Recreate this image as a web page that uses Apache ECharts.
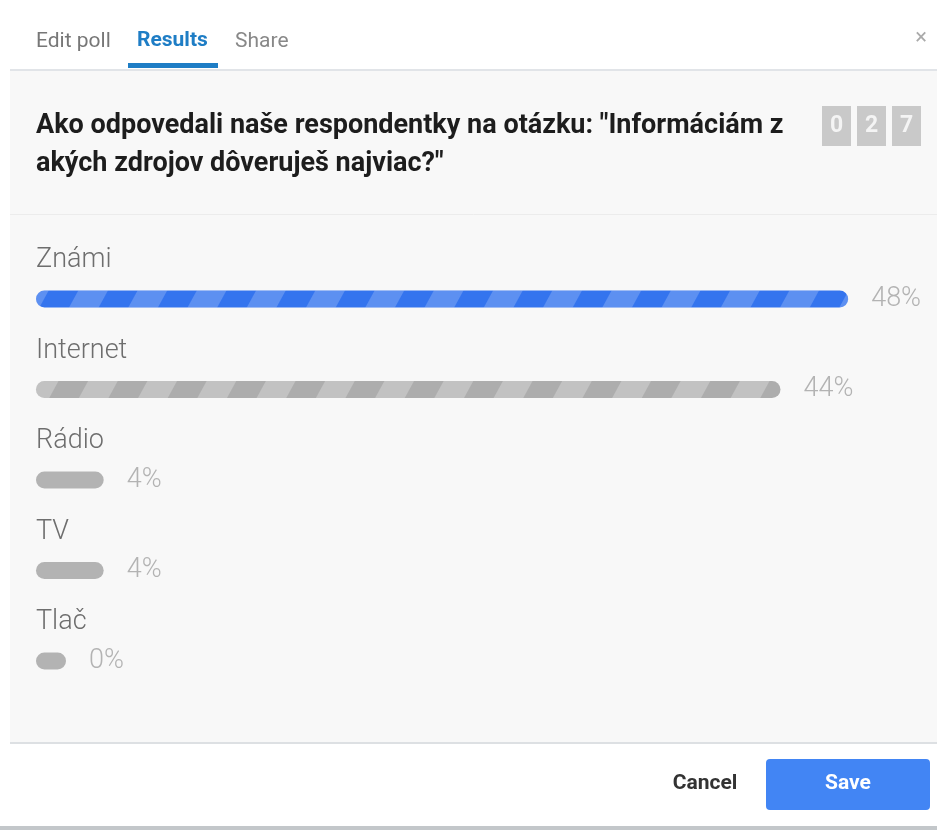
<!DOCTYPE html>
<html>
<head>
<meta charset="utf-8">
<script src="https://cdn.jsdelivr.net/npm/echarts@6/dist/echarts.min.js"></script>
<style>
  html, body { margin: 0; padding: 0; background: #fff; }
  #main { width: 937px; height: 830px; }
</style>
</head>
<body>
<div id="main"></div>
<script>
// poll answers and their shares (%)
let answers = ['Známi', 'Internet', 'Rádio', 'TV', 'Tlač'];
let shares = [48, 44, 4, 4, 0];
let voteDigits = ['0', '2', '7'];
let tabs = ['Edit poll', 'Results', 'Share'];
let question = ['Ako odpovedali naše respondentky na otázku: "Informáciám z', 'akých zdrojov dôveruješ najviac?"'];

const FONT = 'Roboto, "Noto Sans", sans-serif';

function stripes(color) {
    return {
        symbol: 'rect',
        symbolSize: 1,
        color: color,
        dashArrayX: [26, 26],
        dashArrayY: [1, 0],
        rotation: 0.5
    };
}

let barData = shares.map((v, i) => {
    if (i === 0) {
        return { value: v, itemStyle: { color: '#3474ee', decal: stripes('rgba(255,255,255,0.2)') } };
    }
    if (i === 1) {
        return { value: v, itemStyle: { color: '#adadad', decal: stripes('rgba(255,255,255,0.25)') } };
    }
    return { value: v, itemStyle: { color: '#b3b3b3' } };
});

let chrome = [
    // grey panel
    { type: 'rect', shape: { x: 10, y: 70, width: 927, height: 673 }, style: { fill: '#f8f8f8' }, z: -10 },
    { type: 'line', shape: { x1: 10, y1: 70, x2: 937, y2: 70 }, style: { stroke: '#e1e4e8', lineWidth: 2 } },
    { type: 'line', shape: { x1: 10, y1: 214.5, x2: 937, y2: 214.5 }, style: { stroke: '#ececec', lineWidth: 1 } },
    { type: 'line', shape: { x1: 10, y1: 743, x2: 937, y2: 743 }, style: { stroke: '#dde0e3', lineWidth: 2 } },
    { type: 'rect', shape: { x: 0, y: 826, width: 937, height: 4 }, style: { fill: '#c3c7ca' } },
    // tabs
    { type: 'text', x: 36, y: 42, style: { text: tabs[0], font: '21px ' + FONT, fill: '#777', verticalAlign: 'middle' } },
    { type: 'text', x: 137, y: 41, style: { text: tabs[1], font: 'bold 21px ' + FONT, fill: '#1e7dc5', verticalAlign: 'middle' } },
    { type: 'text', x: 235, y: 42, style: { text: tabs[2], font: '21px ' + FONT, fill: '#888', verticalAlign: 'middle' } },
    { type: 'rect', shape: { x: 128, y: 63, width: 90, height: 5 }, style: { fill: '#1e7dc5' } },
    { type: 'text', x: 921, y: 38, style: { text: '×', font: '22px ' + FONT, fill: '#aaa', align: 'center', verticalAlign: 'middle' } },
    // question
    { type: 'text', x: 36, y: 126, style: { text: question[0], font: 'bold 27px ' + FONT, fill: '#1d1d1d', verticalAlign: 'middle' } },
    { type: 'text', x: 36, y: 164, style: { text: question[1], font: 'bold 27px ' + FONT, fill: '#1d1d1d', verticalAlign: 'middle' } },
    // footer
    { type: 'text', x: 705, y: 784, style: { text: 'Cancel', font: 'bold 21px ' + FONT, fill: '#333', align: 'center', verticalAlign: 'middle' } },
    { type: 'rect', shape: { x: 766, y: 759, width: 164, height: 51, r: 4 }, style: { fill: '#4285f4' } },
    { type: 'text', x: 848, y: 784, style: { text: 'Save', font: 'bold 21px ' + FONT, fill: '#fff', align: 'center', verticalAlign: 'middle' } }
];

voteDigits.forEach((d, i) => {
    let x = 822 + i * 35;
    chrome.push({ type: 'rect', shape: { x: x, y: 106, width: 29, height: 40 }, style: { fill: '#c9c9c9' } });
    chrome.push({ type: 'text', x: x + 14.5, y: 126, style: { text: d, font: 'bold 23px ' + FONT, fill: '#f4f4f4', align: 'center', verticalAlign: 'middle' } });
});

let myChart = echarts.init(document.getElementById('main'));
let option = {
    animation: false,
    backgroundColor: '#fff',
    graphic: chrome,
    grid: {
        left: 36,
        right: 55,
        top: 253.75,
        bottom: 123.75,
        containLabel: false
    },
    xAxis: {
        type: 'value',
        min: 0,
        max: 50,
        show: false
    },
    yAxis: {
        type: 'category',
        inverse: true,
        data: answers,
        axisLine: { show: false },
        axisTick: { show: false },
        splitLine: { show: false },
        axisLabel: {
            inside: true,
            margin: 0,
            align: 'left',
            verticalAlign: 'bottom',
            padding: [0, 0, 25, 0],
            fontFamily: FONT,
            fontSize: 27,
            fontWeight: 300,
            color: '#6e6e6e'
        }
    },
    series: [
        {
            type: 'bar',
            data: barData,
            barWidth: 17,
            barMinHeight: 30,
            itemStyle: { borderRadius: 9 },
            label: {
                show: true,
                position: 'right',
                distance: 23,
                formatter: '{c}%',
                fontFamily: FONT,
                fontSize: 27,
                fontWeight: 300,
                color: '#b3b3b3'
            }
        }
    ]
};
myChart.setOption(option);
</script>
</body>
</html>
